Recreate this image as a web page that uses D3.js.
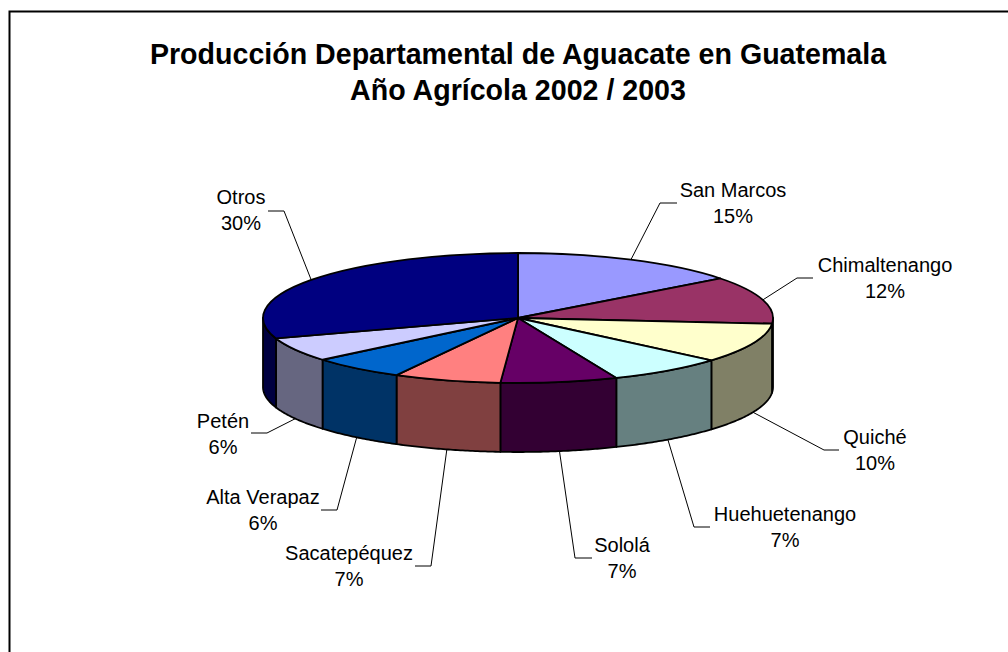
<!DOCTYPE html>
<html>
<head>
<meta charset="utf-8">
<script src="https://cdn.jsdelivr.net/npm/d3@7"></script>
<style>
  html, body { margin: 0; padding: 0; background: #fff; }
  svg { display: block; }
  text { font-family: "Liberation Sans", Arial, sans-serif; fill: #000; }
  .title { font-size: 28.6px; font-weight: bold; text-anchor: middle; }
  .label { font-size: 20px; text-anchor: middle; }
</style>
</head>
<body>
<script>
const titleLines = ["Producción Departamental de Aguacate en Guatemala", "Año Agrícola 2002 / 2003"];
const categories = ["San Marcos", "Chimaltenango", "Quiché", "Huehuetenango", "Sololá", "Sacatepéquez", "Alta Verapaz", "Petén", "Otros"];
const values = [14.6, 11.8, 9.9, 7.4, 7.4, 6.8, 6.0, 6.0, 30.1];
const colors = ["#9999ff", "#993366", "#ffffcc", "#ccffff", "#660066", "#ff8080", "#0066cc", "#ccccff", "#000080"];

// where each label sits and where its leader bends
const labelX = [733, 885, 875, 785, 622, 349, 263, 223, 241];
const labelY = [197, 272, 444, 521, 552, 560, 504, 428, 204];
const elbowX = [660, 797, 824, 694, 575, 431, 337, 267, 284];
const elbowY = [203, 278, 450, 527, 558, 566, 510, 433, 211];
const leaderEndX = [677, 813, 839, 710, 592, 415, 321, 251, 268];

const width = 1008;
const height = 652;
const cx = 518;
const cy = 318;
const rx = 255;
const ry = 65;
const depth = 69;

const svg = d3.select("body")
  .append("svg")
  .attr("width", width)
  .attr("height", height);

// frame only has top and left edges in the picture
svg.append("path")
  .attr("d", `M${width},11.5H9.5V${height}`)
  .attr("fill", "none")
  .attr("stroke", "#000")
  .attr("stroke-width", 2);

const title = svg.append("g");
titleLines.forEach((t, i) => {
  title.append("text")
    .attr("class", "title")
    .attr("x", cx)
    .attr("y", 64 + i * 36)
    .text(t);
});

const slices = d3.pie().sort(null).value(d => d.value)(
  categories.map((name, i) => ({ name, value: values[i], color: colors[i], index: i }))
);

// unit circle -> flattened ellipse
const xScale = d3.scaleLinear().domain([-1, 1]).range([cx - rx, cx + rx]);
const yScale = d3.scaleLinear().domain([-1, 1]).range([cy + ry, cy - ry]);
const ptX = a => xScale(Math.sin(a));
const ptY = a => yScale(Math.cos(a));
const isFront = a => Math.cos(a) < 0;

const side = d3.area()
  .x(a => ptX(a))
  .y0(a => ptY(a))
  .y1(a => ptY(a) + depth);

// side walls, only the front half of the rim is visible
const front = [Math.PI / 2, Math.PI * 1.5];
svg.append("g")
  .selectAll("path")
  .data(slices.filter(d => d.endAngle > front[0] && d.startAngle < front[1]))
  .join("path")
  .attr("d", d => {
    const a0 = Math.max(d.startAngle, front[0]);
    const a1 = Math.min(d.endAngle, front[1]);
    const n = Math.ceil((a1 - a0) / 0.01);
    return side(d3.range(n + 1).map(i => a0 + (a1 - a0) * i / n));
  })
  .attr("fill", d => {
    const c = d3.rgb(d.data.color);
    return d3.rgb(c.r / 2, c.g / 2, c.b / 2);
  })
  .attr("stroke", "#000")
  .attr("stroke-width", 1.8)
  .attr("stroke-linejoin", "round");

// top face
const arc = d3.arc().innerRadius(0).outerRadius(rx);
svg.append("g")
  .attr("transform", `translate(${cx},${cy}) scale(1,${ry / rx})`)
  .selectAll("path")
  .data(slices)
  .join("path")
  .attr("d", arc)
  .attr("fill", d => d.data.color)
  .attr("stroke", "#000")
  .attr("stroke-width", 1.8)
  .attr("stroke-linejoin", "round")
  .attr("vector-effect", "non-scaling-stroke");

// leader lines start on the rim at the middle of each slice
const leader = d3.line();
svg.append("g")
  .selectAll("path")
  .data(slices)
  .join("path")
  .attr("d", d => {
    const i = d.data.index;
    const mid = (d.startAngle + d.endAngle) / 2;
    const y0 = ptY(mid) + (isFront(mid) ? depth : 0);
    return leader([[ptX(mid), y0], [elbowX[i], elbowY[i]], [leaderEndX[i], elbowY[i]]]);
  })
  .attr("fill", "none")
  .attr("stroke", "#000")
  .attr("stroke-width", 1);

const fmt = d3.format(".0f");
const labels = svg.append("g")
  .selectAll("text")
  .data(slices)
  .join("text")
  .attr("class", "label")
  .attr("x", d => labelX[d.data.index])
  .attr("y", d => labelY[d.data.index]);

labels.append("tspan")
  .text(d => d.data.name);

labels.append("tspan")
  .attr("x", d => labelX[d.data.index])
  .attr("dy", 26)
  .text(d => fmt(d.data.value) + "%");
</script>
</body>
</html>
